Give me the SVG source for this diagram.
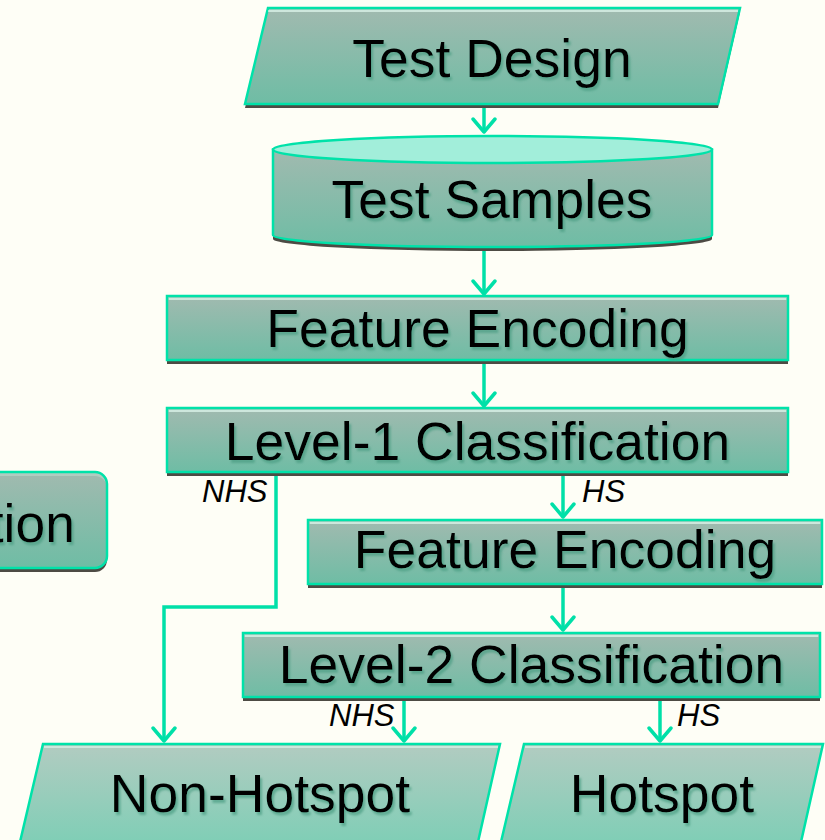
<svg xmlns="http://www.w3.org/2000/svg" width="825" height="840" viewBox="0 0 825 840">
<defs>
<linearGradient id="g" x1="0" y1="0" x2="0" y2="1">
<stop offset="0" stop-color="#AAC6BB"/>
<stop offset="1" stop-color="#72C9AF"/>
</linearGradient>
<filter id="ts" x="-5%" y="-20%" width="110%" height="140%">
<feDropShadow dx="2" dy="3" stdDeviation="0.8" flood-color="#4A9C82" flood-opacity="0.7"/>
</filter>
<marker id="ah" viewBox="-16 -14 18 28" refX="0" refY="0" markerWidth="18" markerHeight="28" markerUnits="userSpaceOnUse" orient="auto">
<path d="M-13,-11 L0,0 L-13,11" fill="none" stroke="#00E0A8" stroke-width="3.5" stroke-linecap="round" stroke-linejoin="round"/>
</marker>
</defs>
<style>
.sh{fill:#4D4B44}
.nd{fill:url(#g);fill-opacity:0.9;stroke:#00E2A9;stroke-width:2.5}
.hl{stroke:#E8FFF6;stroke-width:1.5;opacity:0.7}
.t{font-family:"Liberation Sans",Arial,sans-serif;font-size:53.5px;fill:#000;text-anchor:middle;filter:url(#ts)}
.lb{font-family:"Liberation Sans",Arial,sans-serif;font-size:31px;font-style:italic;fill:#000}
.c{fill:none;stroke:#00E0A8;stroke-width:3.5}
</style>
<rect x="0" y="0" width="825" height="840" fill="#FEFEF6"/>

<g id="connectors">
<line class="c" x1="484" y1="76" x2="484" y2="132" marker-end="url(#ah)"/>
<line class="c" x1="484" y1="222" x2="484" y2="294" marker-end="url(#ah)"/>
<line class="c" x1="484" y1="361" x2="484" y2="406" marker-end="url(#ah)"/>
<line class="c" x1="563" y1="460" x2="563" y2="517" marker-end="url(#ah)"/>
<polyline class="c" points="276,472 276,607 164,607 164,741" marker-end="url(#ah)"/>
<line class="c" x1="563" y1="584" x2="563" y2="630" marker-end="url(#ah)"/>
<line class="c" x1="404" y1="697" x2="404" y2="741" marker-end="url(#ah)"/>
<line class="c" x1="660" y1="697" x2="660" y2="741" marker-end="url(#ah)"/>
</g>

<g id="test-design">
<polygon class="sh" points="268,12 740,12 718,108 245,108"/>
<polygon class="nd" points="268,8 740,8 718,104 245,104"/>
<line class="hl" x1="268" y1="11" x2="738" y2="11"/>
<text class="t" x="492" y="77">Test Design</text>
</g>

<g id="test-samples">
<path class="sh" d="M273,150 L273,239 A219.5,12 0 0 0 712,239 L712,150 Z"/>
<path class="nd" d="M273,149.5 L273,235 A219.5,12 0 0 0 712,235 L712,149.5 Z"/>
<ellipse cx="492.5" cy="149.5" rx="219.5" ry="13.5" fill="#A2EEDA" stroke="#00E2A9" stroke-width="2.5"/>
<text class="t" x="492" y="218">Test Samples</text>
</g>

<g id="feature-encoding-1">
<rect class="sh" x="167" y="300" width="621" height="64"/>
<rect class="nd" x="167" y="296" width="621" height="64"/>
<line class="hl" x1="169" y1="299" x2="786" y2="299"/>
<text class="t" x="477.5" y="347">Feature Encoding</text>
</g>

<g id="level-1">
<rect class="sh" x="167" y="412" width="621" height="64"/>
<rect class="nd" x="167" y="408" width="621" height="64"/>
<line class="hl" x1="169" y1="411" x2="786" y2="411"/>
<text class="t" x="477.5" y="460">Level-1 Classification</text>
</g>

<g id="left-node">
<rect class="sh" x="-20" y="476" width="127" height="96" rx="12"/>
<rect class="nd" x="-20" y="472" width="127" height="96" rx="12"/>
<text class="t" x="75" y="542" style="text-anchor:end">tion</text>
</g>

<g id="feature-encoding-2">
<rect class="sh" x="308" y="524" width="514" height="64"/>
<rect class="nd" x="308" y="520" width="514" height="64"/>
<line class="hl" x1="310" y1="523" x2="820" y2="523"/>
<text class="t" x="565" y="568">Feature Encoding</text>
</g>

<g id="level-2">
<rect class="sh" x="243" y="637" width="577" height="64"/>
<rect class="nd" x="243" y="633" width="577" height="64"/>
<line class="hl" x1="245" y1="636" x2="818" y2="636"/>
<text class="t" x="531.5" y="683">Level-2 Classification</text>
</g>

<g id="non-hotspot">
<polygon class="nd" points="43,744 500,744 478,842 20,842"/>
<line class="hl" x1="44" y1="747" x2="498" y2="747"/>
<text class="t" x="260" y="812">Non-Hotspot</text>
</g>

<g id="hotspot">
<polygon class="nd" points="524,744 823,744 801,842 501,842"/>
<line class="hl" x1="525" y1="747" x2="821" y2="747"/>
<text class="t" x="662" y="812">Hotspot</text>
</g>

<g id="labels">
<text class="lb" x="202" y="502">NHS</text>
<text class="lb" x="582" y="502">HS</text>
<text class="lb" x="329" y="726">NHS</text>
<text class="lb" x="677" y="726">HS</text>
</g>
</svg>
